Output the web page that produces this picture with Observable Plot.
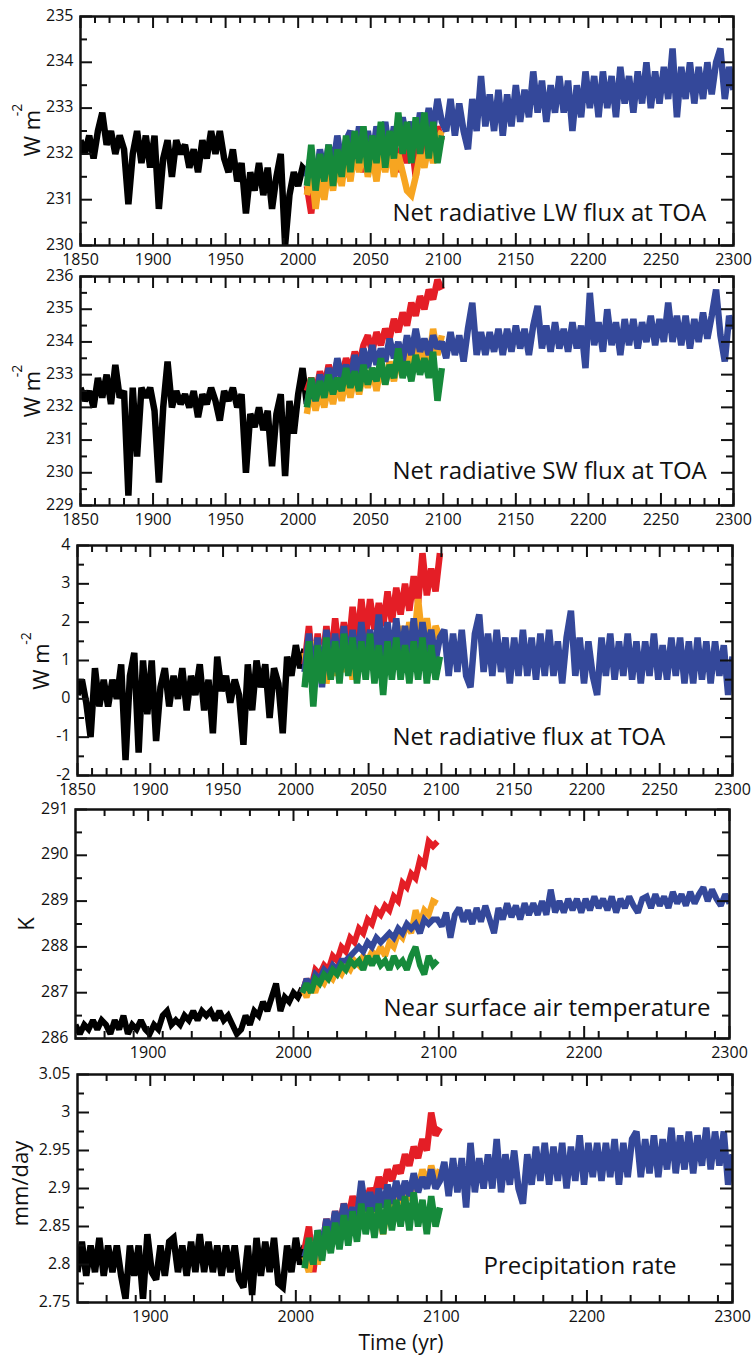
<!DOCTYPE html>
<html><head><meta charset="utf-8">
<script src="https://cdn.jsdelivr.net/npm/d3@7"></script>
<script src="https://cdn.jsdelivr.net/npm/@observablehq/plot@0.6"></script>
<style>
body{margin:0;background:#fff;width:755px;}
#chart svg{display:block;}
</style></head><body><div id="chart"></div>
<script>
// ---- time axes (years sampled every 3 years) ----
const histYears = d3.range(1850, 2007, 3);   // 1850..2006
const rcpYears  = d3.range(2006, 2100, 3);   // 2006..2099
const extYears  = d3.range(2102, 2301, 3);   // 2102..2300

// ---- tick labels ----
const xTicks50 = [1850, 1900, 1950, 2000, 2050, 2100, 2150, 2200, 2250, 2300];
const xTicks100 = [1900, 2000, 2100, 2200, 2300];
const lwYTicks = [230, 231, 232, 233, 234, 235];
const swYTicks = [229, 230, 231, 232, 233, 234, 235, 236];
const netYTicks = [-2, -1, 0, 1, 2, 3, 4];
const tasYTicks = [286, 287, 288, 289, 290, 291];
const prYTicks = [2.75, 2.8, 2.85, 2.9, 2.95, 3, 3.05];

// ---- Panel 1: Net radiative LW flux at TOA (W m-2) ----
const lwHist = [232.3,232.0,232.4,231.9,232.5,232.9,232.2,232.5,232.0,232.4,
 232.1,230.9,232.0,232.5,231.8,232.4,231.7,232.4,230.8,231.9,
 232.3,231.5,232.3,232.0,232.2,231.7,232.1,231.6,232.3,231.9,
 232.5,232.0,232.5,231.9,231.6,232.1,231.4,231.8,230.7,231.6,
 231.2,231.8,231.1,231.7,230.8,231.5,232.0,230.0,231.1,231.6,
 231.3,231.7,231.6];
const lwRcp85 = [231.3,230.7,231.6,231.2,231.8,231.3,231.9,231.4,232.0,231.5,
 232.1,231.7,232.2,231.6,232.3,231.8,232.2,231.7,232.3,231.9,
 232.4,231.6,232.2,231.8,232.3,231.5,232.4,231.8,232.5,232.0,232.6,232.3];
const lwRcp60 = [231.1,231.7,230.8,231.5,231.0,231.7,231.2,231.8,231.3,232.0,
 231.4,232.1,231.6,232.2,231.5,232.0,231.4,232.1,231.6,232.2,
 231.5,232.0,231.6,231.2,231.1,231.5,232.0,231.7,232.2,231.8,232.3,232.5];
const lwRcp45 = [231.5,232.0,231.4,232.1,231.6,232.2,231.7,232.4,231.8,232.3,
 232.5,231.9,232.6,232.0,232.5,231.9,232.6,232.1,232.7,232.0,
 232.6,232.2,232.8,232.3,232.7,232.2,232.9,232.4,233.0,232.5,233.2,232.7];
const lwRcp26 = [231.3,232.2,231.2,232.0,231.4,232.2,231.3,232.1,231.5,232.4,
 231.6,232.5,231.8,232.6,231.6,232.4,231.8,232.7,231.7,232.5,
 231.9,232.9,232.0,232.7,231.8,232.8,232.0,232.9,231.9,232.7,231.8,232.4];
const lwRcp45Ext = [232.5,233.2,232.4,233.1,232.5,232.1,233.2,232.5,233.7,232.6,
 233.3,232.5,233.4,232.4,233.3,232.6,233.5,232.7,233.4,232.8,
 233.8,232.9,233.6,232.7,233.5,232.9,233.7,232.9,233.6,232.5,
 233.5,232.8,233.8,233.0,233.7,232.8,233.8,233.0,233.7,232.8,
 233.9,233.1,233.7,232.9,233.8,233.1,234.0,233.0,233.8,233.1,
 233.9,233.2,234.3,232.8,233.9,233.2,234.0,233.1,233.9,233.2,
 234.0,233.3,234.0,234.3,233.2,233.9,233.4];

// ---- Panel 2: Net radiative SW flux at TOA (W m-2) ----
const swHist = [232.6,232.2,232.5,232.0,232.9,232.3,233.0,232.1,233.3,232.3,
 232.5,229.3,232.6,230.5,232.6,232.3,232.6,231.9,229.7,232.0,
 233.4,232.0,232.5,232.1,232.4,232.0,232.5,231.7,232.4,232.1,
 232.6,232.2,231.6,232.5,232.2,232.6,232.0,232.4,230.0,231.8,
 231.4,232.0,231.3,231.9,230.2,231.8,232.4,229.9,232.2,231.2,
 232.4,233.2,232.1];
const swRcp85 = [232.5,232.9,232.4,233.1,232.6,233.3,232.8,233.4,232.9,233.5,
 233.1,233.7,233.3,233.9,234.2,233.7,234.3,233.9,234.4,234.1,
 234.7,234.3,234.9,234.5,235.2,234.8,235.4,235.0,235.6,235.3,235.9,235.6];
const swRcp60 = [231.8,232.6,231.9,232.5,232.0,232.7,232.1,232.8,232.2,232.9,
 232.3,233.0,232.4,233.1,232.6,233.2,232.5,233.3,232.7,233.4,
 232.8,233.5,233.0,233.7,233.2,233.9,233.3,234.0,233.4,234.4,233.6,234.2];
const swRcp45 = [232.1,232.7,232.2,233.0,232.5,233.2,232.7,233.5,232.9,233.3,
 232.8,233.6,233.0,233.8,233.2,233.9,233.3,233.8,233.4,234.1,
 233.5,234.0,233.4,234.2,233.6,234.4,233.7,234.1,233.6,234.2,233.8,234.0];
const swRcp26 = [232.0,232.9,232.2,232.8,232.3,233.0,232.4,232.9,232.5,233.2,
 232.6,233.1,232.5,233.3,232.7,233.2,232.8,233.5,232.7,233.3,
 232.9,233.8,232.9,233.4,232.8,233.6,233.0,233.5,232.9,233.7,232.2,233.2];
const swRcp45Ext = [233.5,234.3,233.6,234.2,233.4,234.4,235.2,233.6,234.3,233.6,
 234.3,233.7,234.4,233.6,234.4,233.7,234.5,233.8,234.4,233.6,
 234.5,235.1,233.8,234.5,233.7,234.6,233.8,234.4,233.7,234.6,
 233.8,234.5,233.2,235.5,233.9,234.6,233.7,235.0,233.9,234.6,
 233.6,234.7,233.9,234.7,233.8,234.6,234.0,234.8,233.9,234.7,
 234.0,235.2,234.0,234.8,233.9,234.8,233.8,234.7,234.0,234.9,
 234.1,234.8,235.6,234.2,233.4,234.8,234.4];

// ---- Panel 3: Net radiative flux at TOA (W m-2) ----
const netHist = [0.1,0.5,-0.1,-1.0,0.8,-0.2,0.5,-0.2,0.5,0.0,
 0.9,-1.6,0.6,1.2,-1.4,1.0,-0.4,1.0,-1.1,0.3,
 0.8,-0.2,0.6,0.0,0.8,-0.3,0.6,0.1,0.9,-0.3,
 0.5,-0.9,1.1,0.2,0.6,-0.1,0.5,0.1,-1.2,0.9,
 -0.3,1.0,0.3,0.9,-0.5,0.8,0.4,-0.9,1.1,0.6,
 1.4,0.8,1.3];
const netRcp85 = [0.9,1.9,0.6,1.7,0.8,1.9,0.9,2.1,1.1,2.0,
 1.2,2.4,1.4,2.6,1.6,2.6,1.8,2.5,1.9,2.8,
 2.0,2.9,2.2,3.0,2.3,3.2,2.5,3.8,2.7,3.4,2.8,3.8];
const netRcp60 = [1.2,0.5,1.5,0.7,1.4,0.4,1.3,0.6,1.5,0.7,
 1.4,0.5,1.6,0.8,1.5,0.9,1.7,1.0,1.6,0.9,
 1.7,1.1,1.9,1.2,2.0,1.4,2.6,1.5,2.1,1.3,1.9,1.6];
const netRcp45 = [0.7,1.7,0.5,1.6,0.3,1.8,0.8,1.7,0.7,1.9,
 0.9,1.8,0.8,2.0,1.0,1.8,1.0,2.2,1.1,2.0,
 1.0,2.1,1.0,1.9,1.1,2.1,1.0,2.0,1.2,1.8,1.0,1.6];
const netRcp26 = [0.3,1.5,-0.2,1.4,0.4,1.6,0.5,1.5,0.4,1.7,
 0.6,1.6,0.4,1.5,0.5,1.7,0.4,1.4,0.1,1.5,
 0.5,1.6,0.5,1.4,0.4,1.5,0.5,1.6,0.4,1.4,0.5,1.1];
const netRcp45Ext = [1.8,0.6,1.7,0.7,1.8,0.6,0.3,1.7,2.2,0.7,
 1.7,0.6,1.8,0.7,1.6,0.4,1.6,0.6,1.8,0.6,
 1.6,0.5,1.7,0.6,1.8,0.6,1.5,0.4,1.6,2.3,
 0.6,1.6,0.4,1.5,0.6,0.1,1.6,0.6,1.7,0.5,
 1.5,0.6,1.7,0.5,1.5,0.4,1.5,0.6,1.7,0.5,
 1.4,0.5,1.6,0.6,1.6,0.4,1.5,0.4,1.6,0.5,
 1.5,0.4,1.5,0.6,1.4,0.1,1.1];

// ---- Panel 4: Near surface air temperature (K) ----
const tasHist = [286.3,286.1,286.3,286.2,286.4,286.2,286.4,286.3,286.1,286.4,
 286.2,286.5,286.1,286.3,286.2,286.4,286.2,286.1,286.3,286.2,
 286.5,286.6,286.3,286.4,286.3,286.5,286.4,286.6,286.4,286.6,
 286.5,286.6,286.4,286.6,286.4,286.5,286.3,286.1,286.2,286.5,
 286.3,286.6,286.5,286.8,286.6,286.9,287.2,286.6,286.9,286.8,
 287.0,286.9,287.1];
const tasRcp85 = [287.0,287.3,287.1,287.5,287.4,287.6,287.5,287.8,287.7,288.0,
 287.9,288.2,288.1,288.4,288.3,288.6,288.5,288.8,288.7,288.9,
 288.8,289.1,289.0,289.4,289.3,289.6,289.5,289.9,289.8,290.3,290.2,290.3];
const tasRcp60 = [287.1,286.9,287.2,287.0,287.3,287.2,287.4,287.3,287.5,287.4,
 287.6,287.5,287.7,287.6,287.8,287.7,287.9,287.8,288.0,287.8,
 288.1,288.0,288.3,288.2,288.5,288.3,288.8,288.5,288.8,288.7,289.0,288.95];
const tasRcp45 = [287.0,287.3,287.1,287.4,287.3,287.5,287.4,287.6,287.5,287.7,
 287.7,287.8,287.9,288.0,287.9,288.1,288.0,288.2,288.1,288.2,
 288.3,288.2,288.4,288.3,288.5,288.4,288.5,288.3,288.6,288.5,288.6,288.6];
const tasRcp26 = [287.0,287.2,287.0,287.3,287.2,287.4,287.3,287.5,287.4,287.6,
 287.5,287.7,287.6,287.7,287.5,287.8,287.6,287.8,287.6,287.7,
 287.5,287.8,287.6,287.7,287.5,287.8,288.0,287.6,287.4,287.8,287.6,287.7];
const tasRcp45Ext = [288.45,288.75,288.2,288.7,288.85,288.55,288.8,288.5,288.85,288.55,
 288.9,288.6,288.3,288.85,288.6,288.95,288.65,288.9,288.6,288.95,
 288.7,288.95,288.7,289.0,288.7,289.25,288.75,289.0,288.75,289.05,
 288.8,289.05,288.75,289.05,288.8,289.1,288.85,289.05,288.8,289.1,
 288.75,289.05,288.85,289.1,288.9,288.75,289.05,289.1,288.85,289.15,
 288.9,289.1,288.85,289.2,288.95,289.15,288.9,289.2,288.95,289.15,
 289.3,289.0,289.25,289.05,288.9,289.15,288.95];

// ---- Panel 5: Precipitation rate (mm/day) ----
const prHist = [2.79,2.83,2.785,2.825,2.79,2.835,2.785,2.825,2.79,2.825,
 2.785,2.755,2.825,2.785,2.825,2.755,2.84,2.79,2.78,2.825,
 2.785,2.83,2.835,2.79,2.825,2.785,2.83,2.79,2.84,2.79,
 2.83,2.79,2.825,2.785,2.825,2.79,2.825,2.78,2.77,2.825,
 2.76,2.835,2.785,2.83,2.79,2.835,2.775,2.77,2.825,2.79,
 2.835,2.80,2.825];
const prRcp85 = [2.82,2.85,2.79,2.84,2.82,2.86,2.83,2.87,2.85,2.88,
 2.86,2.89,2.87,2.90,2.88,2.90,2.89,2.915,2.90,2.925,
 2.91,2.93,2.92,2.945,2.93,2.955,2.94,2.965,2.95,3.00,2.97,2.98];
const prRcp60 = [2.81,2.79,2.83,2.80,2.84,2.82,2.85,2.83,2.86,2.84,
 2.87,2.85,2.875,2.85,2.88,2.86,2.885,2.865,2.84,2.88,
 2.87,2.895,2.88,2.90,2.885,2.91,2.90,2.925,2.905,2.93,2.91,2.925];
const prRcp45 = [2.81,2.83,2.80,2.845,2.82,2.86,2.835,2.87,2.845,2.88,
 2.855,2.875,2.86,2.91,2.87,2.895,2.87,2.90,2.875,2.905,
 2.88,2.91,2.885,2.91,2.89,2.92,2.895,2.915,2.90,2.925,2.90,2.91];
const prRcp26 = [2.795,2.835,2.80,2.845,2.805,2.85,2.815,2.855,2.82,2.865,
 2.825,2.87,2.83,2.88,2.84,2.875,2.835,2.88,2.84,2.885,
 2.845,2.885,2.85,2.89,2.845,2.895,2.85,2.885,2.84,2.89,2.85,2.875];
const prRcp45Ext = [2.935,2.89,2.94,2.895,2.94,2.875,2.96,2.895,2.94,2.90,
 2.945,2.90,2.965,2.895,2.945,2.905,2.95,2.90,2.88,2.945,
 2.905,2.955,2.91,2.96,2.905,2.955,2.91,2.96,2.90,2.955,
 2.91,2.97,2.905,2.96,2.915,2.96,2.91,2.96,2.915,2.965,
 2.905,2.96,2.915,2.965,2.975,2.915,2.965,2.92,2.97,2.915,
 2.965,2.925,2.98,2.92,2.97,2.925,2.975,2.92,2.97,2.93,
 2.98,2.925,2.975,2.93,2.975,2.905,2.945];

// ---- colours ----
const C = {hist: "#000000", rcp85: "#e41e26", rcp60: "#f7a521", rcp45: "#34489a", rcp26: "#168a3b"};
const FONT = "'Open Sans', 'Noto Sans', sans-serif";

const panels = [
  {title: "Net radiative LW flux at TOA", ylab: "W m", sup: "-2",
   data: [lwHist, lwRcp85, lwRcp60, lwRcp45, lwRcp45Ext, lwRcp26],
   yDomain: [230, 235], yTicks: lwYTicks, xTicks: xTicks50, xStep: 10, sw: 6.5,
   height: 268, mt: 16, mb: 23, ml: 80, mr: 22,
   tdx: 312, tdy: -25, ydx: -48, ydy: 2, sdx: -63, sdy: -21},
  {title: "Net radiative SW flux at TOA", ylab: "W m", sup: "-2",
   data: [swHist, swRcp85, swRcp60, swRcp45, swRcp45Ext, swRcp26],
   yDomain: [229, 236], yTicks: swYTicks, xTicks: xTicks50, xStep: 10, sw: 6.5,
   height: 260, mt: 8, mb: 23, ml: 80, mr: 22,
   tdx: 312, tdy: -27, ydx: -48, ydy: 3, sdx: -63, sdy: -20},
  {title: "Net radiative flux at TOA", ylab: "W m", sup: "-2",
   data: [netHist, netRcp85, netRcp60, netRcp45, netRcp45Ext, netRcp26],
   yDomain: [-2, 4], yTicks: netYTicks, xTicks: xTicks50, xStep: 10, sw: 6.5,
   height: 269, mt: 17, mb: 22, ml: 77, mr: 23,
   tdx: 315, tdy: -31, ydx: -36, ydy: 6, sdx: -51, sdy: -22},
  {title: "Near surface air temperature", ylab: "K", sup: null,
   data: [tasHist, tasRcp85, tasRcp60, tasRcp45, tasRcp45Ext, tasRcp26],
   yDomain: [286, 291], yTicks: tasYTicks, xTicks: xTicks100, xStep: 20, sw: 6,
   height: 263, mt: 12, mb: 22, ml: 75, mr: 26,
   tdx: 308, tdy: -23, ydx: -49, ydy: 0},
  {title: "Precipitation rate", ylab: "mm/day", sup: null, xlab: "Time (yr)",
   data: [prHist, prRcp85, prRcp60, prRcp45, prRcp45Ext, prRcp26],
   yDomain: [2.75, 3.05], yTicks: prYTicks, xTicks: xTicks100, xStep: 20, sw: 6.5,
   height: 298, mt: 14, mb: 56, ml: 77, mr: 23,
   tdx: 406, tdy: -29, ydx: -57, ydy: -5}
];

const toRows = (years, values) => years.map((year, i) => ({year, value: values[i]}));

function makePanel(p) {
  const [hist, r85, r60, r45, r45x, r26] = p.data;
  const W = 755;
  const fH = p.height - p.mt - p.mb;
  const fW = W - p.ml - p.mr;
  const MAJ = 12, MIN = 7;
  const xMinor = d3.range(1850 + p.xStep, 2300, p.xStep).filter(d => !p.xTicks.includes(d));
  const yMinor = d3.pairs(p.yTicks).map(([a, b]) => (a + b) / 2);
  const lineOpts = (color) => ({x: "year", y: "value", stroke: color, strokeWidth: p.sw,
    strokeLinejoin: "miter", strokeMiterlimit: 2.2, strokeLinecap: "butt", clip: true});
  const tick = {stroke: "#111", strokeWidth: 2};
  const marks = [
    Plot.line(toRows(histYears, hist), lineOpts(C.hist)),
    Plot.line(toRows(rcpYears, r85), lineOpts(C.rcp85)),
    Plot.line(toRows(rcpYears, r60), lineOpts(C.rcp60)),
    Plot.line(toRows(rcpYears.concat(extYears), r45.concat(r45x)), lineOpts(C.rcp45)),
    Plot.line(toRows(rcpYears, r26), lineOpts(C.rcp26)),
    // inward ticks on all four sides
    Plot.ruleX(p.xTicks, {...tick, insetTop: fH - MAJ}),
    Plot.ruleX(p.xTicks, {...tick, insetBottom: fH - MAJ}),
    Plot.ruleX(xMinor, {...tick, insetTop: fH - MIN}),
    Plot.ruleX(xMinor, {...tick, insetBottom: fH - MIN}),
    Plot.ruleY(p.yTicks, {...tick, insetRight: fW - MAJ}),
    Plot.ruleY(p.yTicks, {...tick, insetLeft: fW - MAJ}),
    Plot.ruleY(yMinor, {...tick, insetRight: fW - MIN}),
    Plot.ruleY(yMinor, {...tick, insetLeft: fW - MIN}),
    Plot.frame({stroke: "#111", strokeWidth: 2.5}),
    Plot.axisX(p.xTicks, {tickSize: 0, tickPadding: 8, tickFormat: d => String(d), fontSize: 16, label: null}),
    Plot.axisY(p.yTicks, {tickSize: 0, tickPadding: 7, dy: -1, tickFormat: d => String(d), fontSize: 16, label: null}),
    Plot.text([p.title], {text: d => d, frameAnchor: "bottom-left", dx: p.tdx, dy: p.tdy,
      textAnchor: "start", lineAnchor: "bottom", fontSize: 24, fill: "#111"}),
    Plot.text([p.ylab], {text: d => d, frameAnchor: "left", dx: p.ydx, dy: p.ydy, rotate: -90,
      textAnchor: "middle", lineAnchor: "middle", fontSize: 22, fill: "#111"})
  ];
  if (p.sup) marks.push(Plot.text([p.sup], {text: d => d, frameAnchor: "left", dx: p.sdx, dy: p.sdy, rotate: -90,
      textAnchor: "middle", lineAnchor: "middle", fontSize: 14, fill: "#111"}));
  if (p.xlab) marks.push(Plot.text([p.xlab], {text: d => d, frameAnchor: "bottom", dx: -4, dy: 41,
      textAnchor: "middle", lineAnchor: "middle", fontSize: 21, fill: "#111"}));
  return Plot.plot({
    width: W, height: p.height,
    marginTop: p.mt, marginBottom: p.mb, marginLeft: p.ml, marginRight: p.mr,
    x: {domain: [1850, 2300], label: null},
    y: {domain: p.yDomain, label: null},
    style: {fontFamily: FONT, fontSize: "16px", color: "#111", background: "#fff", overflow: "visible"},
    marks
  });
}

const chart = document.getElementById("chart");
for (const p of panels) chart.appendChild(makePanel(p));
</script>
</body></html>
